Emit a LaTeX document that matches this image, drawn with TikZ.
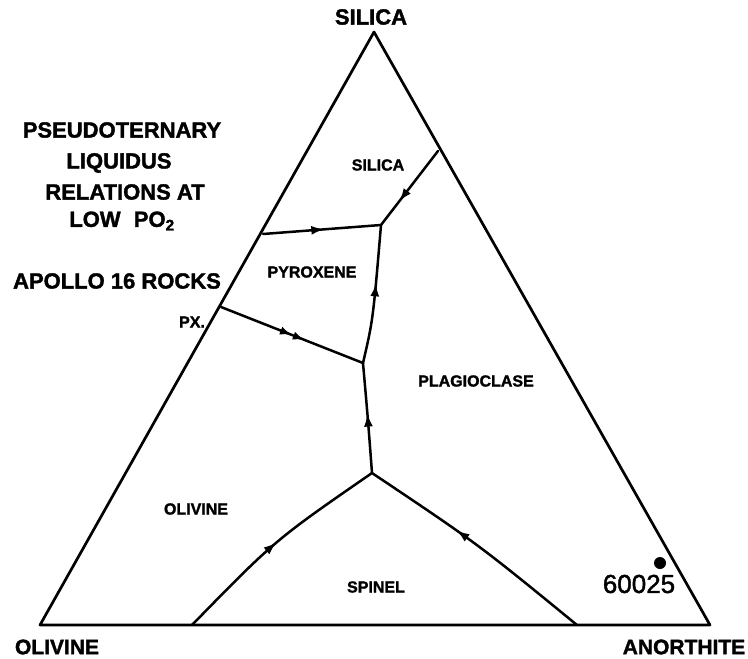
\documentclass[tikz,border=0pt]{standalone}
\usepackage{fontspec}
\setmainfont[FakeBold=1.6]{Liberation Sans}
\usetikzlibrary{decorations.markings,arrows.meta,calc}
\begin{document}
\begin{tikzpicture}[x=1pt,y=-1pt,
  edge/.style={line width=2.7pt,line join=round},
  bnd/.style={line width=2.5pt,line cap=round,line join=round},
  arr/.style={postaction={decorate},decoration={markings,
      mark=at position #1 with {\arrow{Latex[length=13pt,width=9pt]}}}},
  arrtwo/.style 2 args={postaction={decorate},decoration={markings,
      mark=at position #1 with {\arrow{Latex[length=12pt,width=8.5pt]}},
      mark=at position #2 with {\arrow{Latex[length=12pt,width=8.5pt]}}}},
  big/.style={font=\fontsize{22}{24}\selectfont\bfseries,inner sep=0pt},
  corner/.style={font=\fontsize{21}{24}\selectfont\bfseries,inner sep=0pt},
  region/.style={font=\fontsize{16}{18}\selectfont\bfseries,inner sep=0pt},
]
\useasboundingbox (0,0) rectangle (748,659);

% triangle vertices
\coordinate (A) at (374,32);
\coordinate (O) at (40,625);
\coordinate (N) at (710,625);
\draw[edge] (A) -- (O) -- (N) -- cycle;

% boundary points
\coordinate (PA) at (263,234);   % pyroxene/silica on left edge
\coordinate (PX) at (221,307);   % pyroxene/olivine on left edge
\coordinate (SR) at (438,151);   % silica/plagioclase on right edge
\coordinate (J1) at (381,225);
\coordinate (J2) at (363,363);
\coordinate (S)  at (372,473);
\coordinate (SL) at (192,625);
\coordinate (SRb) at (577,625);

% cotectic boundaries
\draw[bnd,arr=0.68] (SR) -- (J1);
\draw[bnd,arr=0.52] (PA) -- (J1);
\draw[bnd,arrtwo={0.5}{0.59}] (PX) -- (J2);
\draw[bnd,arr=0.58] (J2) .. controls (373,320) .. (J1);
\draw[bnd,arr=0.54] (S) .. controls (368,420) .. (J2);
\draw[bnd,arr=0.5] (SL) .. controls (275,540) .. (S);
\draw[bnd,arr=0.6] (SRb) .. controls (478,544) .. (S);

% vertex labels
\node[font=\fontsize{22}{24}\selectfont\bfseries,inner sep=0pt] (tsil) at (371,17) {SILICA};
\node[corner] (tol) at (57,647) {OLIVINE};
\node[corner] (tan) at (684,647) {ANORTHITE};

% title block
\node[big] (t1) at (122,130) {PSEUDOTERNARY};
\node[big] (t2) at (119,163) {LIQUIDUS};
\node[big] (t3) at (125,192) {RELATIONS AT};
\node[big] (t4) at (122,221) {LOW\hspace{0.6em}PO\textsubscript{2}};
\node[big] (t5) at (117,281) {APOLLO 16 ROCKS};
\node[region] (px) at (192,322) {PX.};

% field labels
\node[region] (lsil) at (378,165) {SILICA};
\node[region] (lpyx) at (312,272) {PYROXENE};
\node[region] (lplg) at (476,381) {PLAGIOCLASE};
\node[region] (loli) at (196,509) {OLIVINE};
\node[region] (lspn) at (376,587) {SPINEL};

% sample
\node[circle,fill,inner sep=0pt,minimum size=12pt] (dot) at (660,563) {};
\node[font=\fontsize{26}{28}\selectfont,inner sep=0pt] (smp) at (639,584) {60025};
\end{tikzpicture}
\end{document}
